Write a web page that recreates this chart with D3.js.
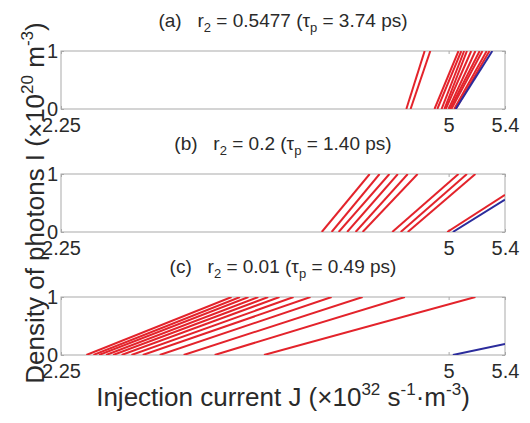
<!DOCTYPE html>
<html lang="en">
<head>
    <meta charset="UTF-8">
    <title>Photon density vs injection current</title>
    <script src="https://d3js.org/d3.v7.min.js"></script>
</head>
<style>
    body{
        margin: 0;
        background-color: white;
    }
    text{
        white-space: pre;
    }
</style>
<body>
    <script>
    // axis ticks
    const xTicks = [2.25, 5, 5.4];
    const yTicks = [0, 1];

    // panel titles
    const panelLetters = ['(a)', '(b)', '(c)'];
    const r2Values = ['0.5477', '0.2', '0.01'];
    const tauValues = ['3.74', '1.40', '0.49'];

    // red curves, each one [[J, I], [J, I]]
    const redA = [
        [[4.70, 0], [4.83, 1]],
        [[4.73, 0], [4.87, 1]],
        [[4.90, 0], [5.07, 1]],
        [[4.92, 0], [5.09, 1]],
        [[4.95, 0], [5.11, 1]],
        [[4.97, 0], [5.13, 1]],
        [[4.98, 0], [5.16, 1]],
        [[5.00, 0], [5.19, 1]],
        [[5.01, 0], [5.22, 1]],
        [[5.02, 0], [5.24, 1]],
        [[5.04, 0], [5.27, 1]],
        [[5.05, 0], [5.29, 1]]
    ];
    const redB = [
        [[4.10, 0], [4.44, 1]],
        [[4.17, 0], [4.51, 1]],
        [[4.22, 0], [4.58, 1]],
        [[4.28, 0], [4.64, 1]],
        [[4.34, 0], [4.71, 1]],
        [[4.39, 0], [4.78, 1]],
        [[4.60, 0], [5.07, 1]],
        [[4.66, 0], [5.13, 1]],
        [[4.71, 0], [5.19, 1]],
        [[4.99, 0], [5.40, 0.64]]
    ];
    const redC = [
        [[2.43, 0], [3.46, 1]],
        [[2.48, 0], [3.52, 1]],
        [[2.52, 0], [3.58, 1]],
        [[2.57, 0], [3.65, 1]],
        [[2.62, 0], [3.72, 1]],
        [[2.68, 0], [3.80, 1]],
        [[2.75, 0], [3.90, 1]],
        [[2.83, 0], [4.02, 1]],
        [[2.95, 0], [4.17, 1]],
        [[3.12, 0], [4.39, 1]],
        [[3.34, 0], [4.69, 1]],
        [[3.69, 0], [5.19, 1]]
    ];

    // blue curves
    const blueA = [[5.05, 0], [5.31, 1]];
    const blueB = [[5.03, 0], [5.40, 0.56]];
    const blueC = [[5.03, 0], [5.40, 0.19]];

    const redSets = [redA, redB, redC];
    const blueSets = [blueA, blueB, blueC];

    const width = 530;
    const height = 423;
    const left = 61;
    const plotWidth = 444;
    const plotHeight = 58;
    const panelTops = [51, 174, 297];
    const font = '"Liberation Sans", Arial, sans-serif';
    const textColor = '#2a2a2a';
    const frameColor = '#a9a9a9';

    const svg = d3.select('body')
        .append('svg')
        .attr('width', width)
        .attr('height', height)
        .attr('font-family', font);

    const xScale = d3.scaleLinear()
        .domain([2.25, 5.4])
        .range([0, plotWidth]);

    const yScale = d3.scaleLinear()
        .domain([0, 1])
        .range([plotHeight, 0]);

    const line = d3.line()
        .x(d => xScale(d[0]))
        .y(d => yScale(d[1]));

    panelTops.forEach((top, i) => {
        const g = svg.append('g')
            .attr('transform', `translate(${left}, ${top})`);

        g.append('clipPath')
            .attr('id', `clip${i}`)
            .append('rect')
            .attr('width', plotWidth)
            .attr('height', plotHeight);

        // frame
        g.append('rect')
            .attr('width', plotWidth)
            .attr('height', plotHeight)
            .attr('fill', 'none')
            .attr('stroke', frameColor);

        // ticks (inside the box, like matlab)
        const bottom = g.append('g')
            .attr('transform', `translate(0, ${plotHeight})`)
            .call(d3.axisBottom(xScale).tickValues(xTicks).tickFormat(d => d)
                .tickSizeInner(-3).tickSizeOuter(0).tickPadding(9));
        const topAxis = g.append('g')
            .call(d3.axisTop(xScale).tickValues(xTicks).tickFormat('')
                .tickSizeInner(-3).tickSizeOuter(0));
        const leftAxis = g.append('g')
            .call(d3.axisLeft(yScale).tickValues(yTicks).tickFormat(d3.format('d'))
                .tickSizeInner(-3).tickSizeOuter(0).tickPadding(3));
        const rightAxis = g.append('g')
            .attr('transform', `translate(${plotWidth}, 0)`)
            .call(d3.axisRight(yScale).tickValues(yTicks).tickFormat('')
                .tickSizeInner(-3).tickSizeOuter(0));

        [bottom, topAxis, leftAxis, rightAxis].forEach(a => {
            a.select('.domain').remove();
            a.attr('font-size', 20).attr('font-family', font);
            a.selectAll('line').attr('stroke', frameColor);
            a.selectAll('text').attr('fill', textColor);
        });

        const plot = g.append('g').attr('clip-path', `url(#clip${i})`);

        plot.selectAll('.red')
            .data(redSets[i])
            .enter()
            .append('path')
            .attr('class', 'red')
            .attr('d', line)
            .attr('fill', 'none')
            .attr('stroke', '#e3232b')
            .attr('stroke-width', 2);

        plot.append('path')
            .datum(blueSets[i])
            .attr('d', line)
            .attr('fill', 'none')
            .attr('stroke', '#2b2c9c')
            .attr('stroke-width', 2);

        // title
        const title = svg.append('text')
            .attr('x', left + plotWidth / 2)
            .attr('y', top - 24)
            .attr('text-anchor', 'middle')
            .attr('font-size', 19)
            .attr('fill', textColor);
        title.append('tspan').text(`${panelLetters[i]}   r`);
        title.append('tspan').attr('font-size', 13).attr('dy', 5).text('2');
        title.append('tspan').attr('dy', -5).text(` = ${r2Values[i]} (\u03c4`);
        title.append('tspan').attr('font-size', 13).attr('dy', 5).text('p');
        title.append('tspan').attr('dy', -5).text(` = ${tauValues[i]} ps)`);
    });

    // X-axis label
    const xLabel = svg.append('text')
        .attr('x', left + plotWidth / 2)
        .attr('y', 406)
        .attr('text-anchor', 'middle')
        .attr('font-size', 26)
        .attr('fill', textColor);
    xLabel.append('tspan').text('Injection current J (\u00d710');
    xLabel.append('tspan').attr('font-size', 17).attr('dy', -11).text('32');
    xLabel.append('tspan').attr('dy', 11).text(' s');
    xLabel.append('tspan').attr('font-size', 17).attr('dy', -11).text('-1');
    xLabel.append('tspan').attr('dy', 11).text('\u00b7m');
    xLabel.append('tspan').attr('font-size', 17).attr('dy', -11).text('-3');
    xLabel.append('tspan').attr('dy', 11).text(')');

    // Y-axis label
    const yLabel = svg.append('text')
        .attr('transform', 'translate(44, 203) rotate(-90)')
        .attr('text-anchor', 'middle')
        .attr('font-size', 26)
        .attr('fill', textColor);
    yLabel.append('tspan').text('Density of photons I (\u00d710');
    yLabel.append('tspan').attr('font-size', 17).attr('dy', -11).text('20');
    yLabel.append('tspan').attr('dy', 11).text(' m');
    yLabel.append('tspan').attr('font-size', 17).attr('dy', -11).text('-3');
    yLabel.append('tspan').attr('dy', 11).text(')');
    </script>
</body>
</html>
